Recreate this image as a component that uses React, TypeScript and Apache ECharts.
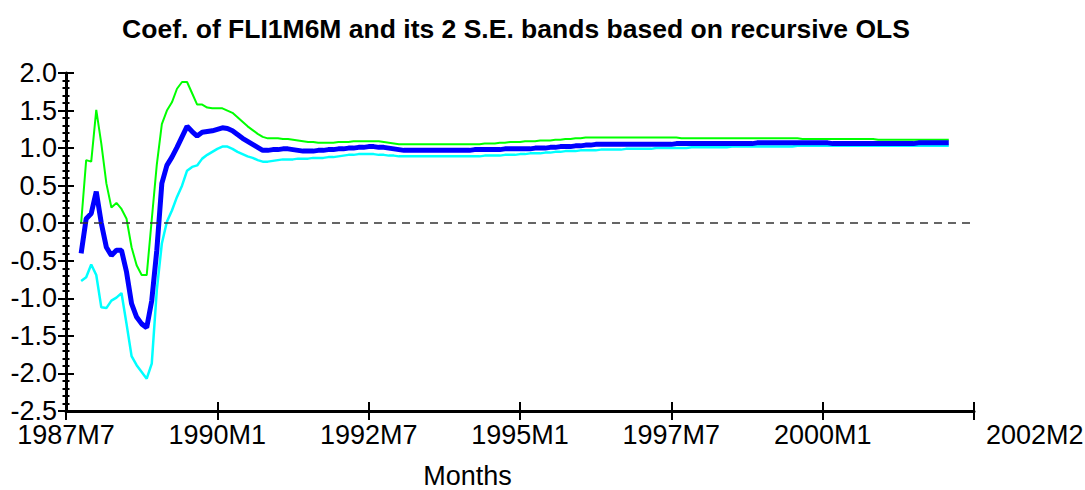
import { useEffect, useRef } from "react";
import * as echarts from "echarts";

// Recursive OLS estimate of the FLI1M6M coefficient with its ±2 S.E. bands,
// monthly, first estimate 1987M10, last 2002M2.
const FIRST_PERIOD = "1987M10";
const AXIS_START = "1987M7";
const TICK_STEP_MONTHS = 30;
const AXIS_SPAN_MONTHS = 180;
const Y_TICKS = { min: -2.5, max: 2.0, step: 0.5 };

const coef = [
  -0.40, 0.06, 0.13, 0.42, 0.00, -0.32, -0.43, -0.36, -0.36, -0.65, -1.07, -1.25,
  -1.34, -1.39, -1.03, -0.36, 0.53, 0.77, 0.88, 1.01, 1.15, 1.29, 1.22, 1.16,
  1.21, 1.22, 1.23, 1.25, 1.27, 1.26, 1.23, 1.18, 1.13, 1.09, 1.05, 1.01,
  0.97, 0.97, 0.98, 0.98, 0.99, 0.99, 0.98, 0.97, 0.96, 0.96, 0.96, 0.97,
  0.97, 0.98, 0.98, 0.99, 0.99, 1.00, 1.00, 1.01, 1.01, 1.02, 1.02, 1.01,
  1.01, 1.00, 0.99, 0.98, 0.97, 0.97, 0.97, 0.97, 0.97, 0.97, 0.97, 0.97,
  0.97, 0.97, 0.97, 0.97, 0.97, 0.97, 0.98, 0.98, 0.98, 0.98, 0.98, 0.98,
  0.99, 0.99, 0.99, 0.99, 0.99, 0.99, 1.00, 1.00, 1.00, 1.01, 1.01, 1.02,
  1.02, 1.02, 1.03, 1.03, 1.04, 1.04, 1.05, 1.05, 1.05, 1.05, 1.05, 1.05,
  1.05, 1.05, 1.05, 1.05, 1.05, 1.05, 1.05, 1.05, 1.05, 1.05, 1.06, 1.06,
  1.06, 1.06, 1.06, 1.06, 1.06, 1.06, 1.06, 1.06, 1.06, 1.06, 1.06, 1.06,
  1.06, 1.06, 1.07, 1.07, 1.07, 1.07, 1.07, 1.07, 1.07, 1.07, 1.07, 1.07,
  1.07, 1.07, 1.07, 1.07, 1.07, 1.06, 1.06, 1.06, 1.06, 1.06, 1.06, 1.06,
  1.06, 1.06, 1.06, 1.06, 1.06, 1.06, 1.06, 1.06, 1.06, 1.06, 1.07, 1.07,
  1.07, 1.07, 1.07, 1.07, 1.07,
];

const upperBand = [
  0.00, 0.84, 0.82, 1.51, 1.06, 0.53, 0.21, 0.27, 0.19, 0.06, -0.32, -0.56,
  -0.69, -0.69, 0.05, 0.78, 1.32, 1.50, 1.61, 1.79, 1.88, 1.88, 1.73, 1.58,
  1.58, 1.54, 1.53, 1.53, 1.53, 1.50, 1.47, 1.41, 1.35, 1.29, 1.24, 1.19,
  1.15, 1.13, 1.13, 1.13, 1.12, 1.12, 1.11, 1.10, 1.09, 1.08, 1.08, 1.07,
  1.07, 1.07, 1.07, 1.08, 1.08, 1.08, 1.09, 1.09, 1.09, 1.09, 1.09, 1.09,
  1.08, 1.07, 1.06, 1.05, 1.05, 1.05, 1.05, 1.05, 1.05, 1.05, 1.05, 1.05,
  1.05, 1.05, 1.05, 1.05, 1.05, 1.05, 1.05, 1.05, 1.06, 1.06, 1.06, 1.07,
  1.07, 1.08, 1.08, 1.08, 1.09, 1.09, 1.09, 1.10, 1.10, 1.10, 1.11, 1.11,
  1.12, 1.12, 1.13, 1.13, 1.14, 1.14, 1.14, 1.14, 1.14, 1.14, 1.14, 1.14,
  1.14, 1.14, 1.14, 1.14, 1.14, 1.14, 1.14, 1.14, 1.14, 1.14, 1.14, 1.13,
  1.13, 1.13, 1.13, 1.13, 1.13, 1.13, 1.13, 1.13, 1.13, 1.13, 1.13, 1.13,
  1.13, 1.13, 1.13, 1.13, 1.13, 1.13, 1.13, 1.13, 1.13, 1.13, 1.13, 1.12,
  1.12, 1.12, 1.12, 1.12, 1.12, 1.12, 1.12, 1.12, 1.12, 1.12, 1.12, 1.12,
  1.12, 1.12, 1.11, 1.11, 1.11, 1.11, 1.11, 1.11, 1.11, 1.11, 1.11, 1.11,
  1.11, 1.11, 1.11, 1.11, 1.11,
];

const lowerBand = [
  -0.77, -0.72, -0.55, -0.69, -1.12, -1.13, -1.03, -0.99, -0.93, -1.34, -1.77, -1.89,
  -1.98, -2.07, -1.87, -0.89, -0.27, 0.02, 0.17, 0.35, 0.50, 0.70, 0.75, 0.77,
  0.86, 0.91, 0.95, 0.99, 1.02, 1.02, 0.99, 0.95, 0.92, 0.89, 0.87, 0.84,
  0.82, 0.82, 0.83, 0.84, 0.85, 0.85, 0.85, 0.86, 0.86, 0.86, 0.87, 0.87,
  0.87, 0.88, 0.88, 0.89, 0.90, 0.91, 0.91, 0.92, 0.92, 0.92, 0.92, 0.91,
  0.91, 0.90, 0.90, 0.89, 0.89, 0.89, 0.89, 0.89, 0.89, 0.89, 0.89, 0.89,
  0.89, 0.89, 0.89, 0.89, 0.89, 0.89, 0.89, 0.89, 0.90, 0.90, 0.90, 0.90,
  0.91, 0.91, 0.91, 0.92, 0.92, 0.93, 0.93, 0.93, 0.94, 0.94, 0.95, 0.95,
  0.96, 0.96, 0.96, 0.97, 0.97, 0.97, 0.97, 0.98, 0.98, 0.98, 0.98, 0.98,
  0.99, 0.99, 0.99, 0.99, 0.99, 0.99, 1.00, 1.00, 1.00, 1.00, 1.00, 1.00,
  1.00, 1.01, 1.01, 1.01, 1.01, 1.01, 1.01, 1.01, 1.01, 1.02, 1.02, 1.02,
  1.02, 1.02, 1.02, 1.02, 1.02, 1.02, 1.02, 1.02, 1.02, 1.02, 1.03, 1.03,
  1.03, 1.03, 1.03, 1.03, 1.03, 1.03, 1.03, 1.03, 1.03, 1.03, 1.03, 1.03,
  1.03, 1.03, 1.03, 1.03, 1.03, 1.03, 1.03, 1.03, 1.03, 1.03, 1.03, 1.03,
  1.03, 1.03, 1.03, 1.03, 1.03,
];

const FONT = "'Liberation Sans', Arial, Helvetica, sans-serif";
const LABEL_SIZE = 27;
const LABEL_LINE = 20;

// "1987M7" -> absolute month count
function monthNumber(period: string): number {
  const [y, m] = period.split("M").map(Number);
  return y * 12 + (m - 1);
}

function periodName(absMonth: number): string {
  return `${Math.floor(absMonth / 12)}M${(absMonth % 12) + 1}`;
}

const origin = monthNumber(AXIS_START);
const firstOffset = monthNumber(FIRST_PERIOD) - origin;
const lastPeriod = periodName(origin + firstOffset + coef.length - 1);

function toPoints(values: number[]): [number, number][] {
  return values.map((v, i) => [firstOffset + i, v]);
}

export default function App() {
  const ref = useRef<HTMLDivElement>(null);

  useEffect(() => {
    if (!ref.current) return;
    const chart = echarts.init(ref.current, null, { renderer: "svg" });

    const xBase = {
      type: "value" as const,
      min: 0,
      max: AXIS_SPAN_MONTHS,
      interval: TICK_STEP_MONTHS,
      position: "bottom" as const,
      splitLine: { show: false },
    };
    const yBase = {
      type: "value" as const,
      min: Y_TICKS.min,
      max: Y_TICKS.max,
      interval: Y_TICKS.step,
      position: "left" as const,
      splitLine: { show: false },
    };

    chart.setOption({
      animation: false,
      backgroundColor: "#ffffff",
      title: {
        text: "Coef. of FLI1M6M and its 2 S.E. bands based on recursive OLS",
        left: 516,
        top: 15,
        textAlign: "center",
        padding: 0,
        textStyle: { fontFamily: FONT, fontSize: 26.5, fontWeight: "bold", color: "#000" },
      },
      grid: {
        left: 66,
        right: 111,
        top: 73,
        bottom: 79,
        containLabel: false,
        outerBoundsMode: "none",
      },
      xAxis: [
        {
          ...xBase,
          name: "Months",
          nameLocation: "middle",
          nameGap: 55,
          nameTextStyle: {
            fontFamily: FONT,
            fontSize: LABEL_SIZE,
            lineHeight: LABEL_LINE,
            color: "#000",
            padding: [0, 105, 0, 0],
          },
          axisLine: { show: true, onZero: false, lineStyle: { color: "#000", width: 3 } },
          axisTick: { show: true, length: 9, lineStyle: { color: "#000", width: 2 } },
          axisLabel: {
            show: true,
            margin: 14,
            fontFamily: FONT,
            fontSize: LABEL_SIZE,
            lineHeight: LABEL_LINE,
            color: "#000",
            showMinLabel: true,
            showMaxLabel: true,
            alignMaxLabel: "left",
            formatter: (v: number) =>
              v >= AXIS_SPAN_MONTHS ? `{end|${lastPeriod}}` : periodName(origin + v),
            rich: {
              end: {
                fontFamily: FONT,
                fontSize: LABEL_SIZE,
                lineHeight: LABEL_LINE,
                color: "#000",
                padding: [0, 0, 0, 12],
              },
            },
          },
        },
        {
          ...xBase,
          axisLine: { show: false, onZero: false },
          axisTick: { show: true, inside: true, length: 9, lineStyle: { color: "#000", width: 2 } },
          axisLabel: { show: false },
        },
      ],
      yAxis: [
        {
          ...yBase,
          axisLine: { show: true, onZero: false, lineStyle: { color: "#000", width: 3 } },
          axisTick: { show: true, length: 8, lineStyle: { color: "#000", width: 2 } },
          minorTick: { show: true, splitNumber: 5, length: 3.5, lineStyle: { color: "#000", width: 2 } },
          axisLabel: {
            show: true,
            margin: 9,
            fontFamily: FONT,
            fontSize: LABEL_SIZE,
            lineHeight: LABEL_LINE,
            color: "#000",
            formatter: (v: number) => v.toFixed(1),
          },
        },
        {
          ...yBase,
          axisLine: { show: false, onZero: false },
          axisTick: { show: true, inside: true, length: 8, lineStyle: { color: "#000", width: 2 } },
          minorTick: { show: true, splitNumber: 5, length: 3.5, lineStyle: { color: "#000", width: 2 } },
          axisLabel: { show: false },
        },
      ],
      series: [
        {
          name: "Upper band",
          type: "line",
          data: toPoints(upperBand),
          showSymbol: false,
          lineStyle: { color: "#00ff00", width: 2 },
          markLine: {
            silent: true,
            symbol: "none",
            label: { show: false },
            lineStyle: { color: "#333", type: [8, 6], width: 1.5 },
            data: [{ yAxis: 0 }],
          },
        },
        {
          name: "Lower band",
          type: "line",
          data: toPoints(lowerBand),
          showSymbol: false,
          lineStyle: { color: "#00ffff", width: 2.5 },
        },
        {
          name: "Coefficient",
          type: "line",
          data: toPoints(coef),
          showSymbol: false,
          lineStyle: { color: "#0000ff", width: 5 },
        },
      ],
    });

    return () => chart.dispose();
  }, []);

  return (
    <div
      ref={ref}
      style={{ position: "fixed", left: 0, top: 0, width: 1085, height: 490, background: "#fff" }}
    />
  );
}
